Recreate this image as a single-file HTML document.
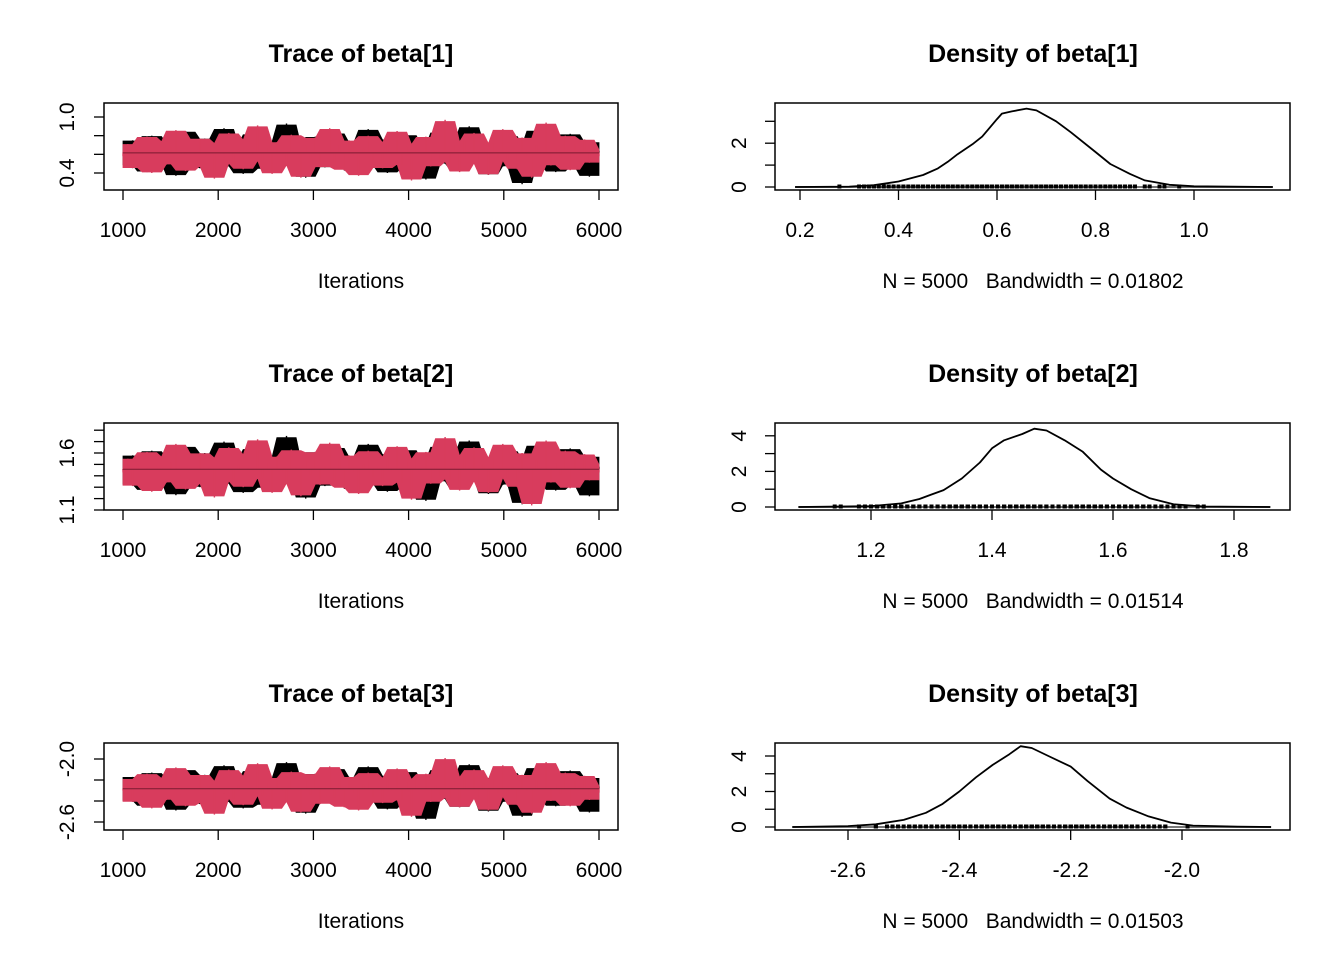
<!DOCTYPE html>
<html><head><meta charset="utf-8"><style>
body{margin:0;background:#fff}
svg{display:block;font-family:"Liberation Sans",Arial,sans-serif}
</style></head><body>
<svg id="c" width="1344" height="960" viewBox="0 0 1344 960"></svg>
<script>
const iterStart = 1000, iterEnd = 6000;
const b1c1 = [0.62,0.48,0.75,0.55,0.68,0.41,0.80,0.59,0.66,0.50,0.72,0.37,0.63,0.85,0.54,0.61,0.45,0.77,0.58,0.69,0.52,0.88,0.47,0.64,0.71,0.39,0.60,0.82,0.56,0.67,0.44,0.74,0.61,0.53,0.93,0.49,0.65,0.70,0.35,0.62,0.79,0.57,0.46,0.68,0.83,0.51,0.60,0.73,0.42,0.66,0.58,0.87,0.48,0.63,0.76,0.40,0.59,0.71,0.54,0.81,0.45,0.67,0.62,0.33,0.70,0.56,0.84,0.50,0.64,0.75,0.43,0.61,0.90,0.52,0.68,0.58,0.38,0.72,0.63,0.47,0.80,0.55,0.66,0.28,0.70,0.59,0.86,0.49,0.62,0.74,0.41,0.65,0.57,0.82,0.46,0.69,0.60,0.36,0.73,0.64];
const b1c2 = [0.58,0.71,0.45,0.66,0.52,0.79,0.40,0.63,0.74,0.49,0.68,0.86,0.55,0.42,0.70,0.61,0.77,0.47,0.64,0.34,0.72,0.57,0.83,0.50,0.65,0.44,0.76,0.60,0.91,0.53,0.67,0.39,0.73,0.58,0.48,0.81,0.62,0.35,0.69,0.56,0.78,0.46,0.64,0.88,0.51,0.70,0.43,0.75,0.59,0.37,0.66,0.80,0.54,0.62,0.45,0.73,0.58,0.85,0.49,0.68,0.32,0.71,0.60,0.79,0.47,0.64,0.55,0.97,0.52,0.69,0.41,0.74,0.61,0.83,0.50,0.66,0.38,0.72,0.57,0.87,0.53,0.63,0.44,0.78,0.59,0.35,0.70,0.62,0.94,0.48,0.67,0.56,0.80,0.43,0.71,0.60,0.76,0.51,0.65,0.58];
const b2c1 = [1.45,1.32,1.58,1.40,1.52,1.27,1.62,1.44,1.50,1.35,1.56,1.23,1.47,1.66,1.38,1.46,1.30,1.60,1.42,1.53,1.36,1.70,1.33,1.48,1.55,1.25,1.45,1.64,1.39,1.51,1.29,1.57,1.46,1.37,1.75,1.34,1.49,1.54,1.20,1.47,1.61,1.41,1.31,1.52,1.65,1.36,1.45,1.57,1.28,1.50,1.43,1.68,1.33,1.48,1.59,1.26,1.44,1.55,1.38,1.63,1.30,1.51,1.46,1.18,1.54,1.40,1.66,1.35,1.49,1.58,1.28,1.46,1.71,1.37,1.52,1.43,1.24,1.56,1.47,1.32,1.62,1.39,1.50,1.15,1.54,1.44,1.67,1.34,1.47,1.58,1.27,1.49,1.42,1.64,1.31,1.53,1.45,1.22,1.57,1.48];
const b2c2 = [1.43,1.55,1.31,1.50,1.37,1.61,1.26,1.48,1.57,1.34,1.52,1.68,1.40,1.28,1.54,1.46,1.60,1.33,1.49,1.21,1.56,1.42,1.65,1.35,1.50,1.30,1.59,1.45,1.72,1.38,1.51,1.25,1.57,1.43,1.33,1.63,1.47,1.22,1.53,1.41,1.61,1.32,1.49,1.69,1.36,1.54,1.29,1.58,1.44,1.24,1.50,1.62,1.39,1.47,1.31,1.57,1.43,1.66,1.34,1.52,1.19,1.55,1.45,1.61,1.33,1.49,1.40,1.74,1.37,1.53,1.27,1.58,1.46,1.65,1.35,1.50,1.25,1.56,1.42,1.68,1.38,1.48,1.30,1.60,1.44,1.14,1.54,1.47,1.71,1.34,1.51,1.41,1.62,1.29,1.55,1.45,1.59,1.36,1.50,1.43];
const b3c1 = [-2.28,-2.40,-2.17,-2.33,-2.22,-2.45,-2.13,-2.30,-2.24,-2.38,-2.19,-2.49,-2.27,-2.10,-2.35,-2.29,-2.43,-2.15,-2.32,-2.21,-2.37,-2.06,-2.41,-2.26,-2.20,-2.47,-2.29,-2.11,-2.34,-2.23,-2.44,-2.18,-2.29,-2.36,-2.03,-2.39,-2.25,-2.20,-2.52,-2.27,-2.14,-2.31,-2.42,-2.22,-2.09,-2.37,-2.28,-2.17,-2.46,-2.24,-2.31,-2.07,-2.40,-2.26,-2.16,-2.48,-2.30,-2.19,-2.35,-2.12,-2.43,-2.23,-2.28,-2.58,-2.20,-2.33,-2.10,-2.38,-2.25,-2.17,-2.46,-2.29,-2.05,-2.36,-2.22,-2.31,-2.50,-2.18,-2.27,-2.41,-2.13,-2.34,-2.24,-2.55,-2.20,-2.30,-2.08,-2.39,-2.27,-2.17,-2.45,-2.25,-2.32,-2.11,-2.42,-2.21,-2.29,-2.51,-2.18,-2.26];
const b3c2 = [-2.30,-2.19,-2.41,-2.24,-2.36,-2.14,-2.47,-2.27,-2.18,-2.39,-2.22,-2.08,-2.34,-2.45,-2.20,-2.29,-2.15,-2.42,-2.26,-2.53,-2.21,-2.33,-2.10,-2.38,-2.25,-2.44,-2.16,-2.30,-2.04,-2.35,-2.23,-2.48,-2.18,-2.31,-2.41,-2.12,-2.28,-2.51,-2.21,-2.34,-2.14,-2.43,-2.26,-2.07,-2.37,-2.20,-2.46,-2.17,-2.32,-2.49,-2.24,-2.13,-2.36,-2.28,-2.42,-2.18,-2.31,-2.09,-2.39,-2.22,-2.55,-2.19,-2.30,-2.14,-2.41,-2.25,-2.34,-1.99,-2.37,-2.21,-2.46,-2.17,-2.29,-2.10,-2.38,-2.23,-2.49,-2.19,-2.32,-2.06,-2.36,-2.27,-2.44,-2.15,-2.31,-2.52,-2.20,-2.28,-2.03,-2.40,-2.24,-2.33,-2.13,-2.45,-2.21,-2.30,-2.16,-2.39,-2.26,-2.32];
const d1x = [0.19,0.30,0.35,0.40,0.45,0.48,0.50,0.52,0.55,0.57,0.60,0.61,0.63,0.66,0.68,0.72,0.75,0.80,0.83,0.87,0.90,0.95,1.00,1.16];
const d1y = [0,0.02,0.08,0.25,0.55,0.85,1.15,1.5,1.95,2.3,3.1,3.35,3.45,3.58,3.5,3.0,2.5,1.6,1.05,0.6,0.3,0.1,0.03,0];
const d2x = [1.08,1.20,1.25,1.28,1.30,1.32,1.35,1.38,1.40,1.42,1.45,1.47,1.49,1.52,1.55,1.58,1.60,1.63,1.66,1.70,1.75,1.86];
const d2y = [0,0.05,0.2,0.45,0.7,0.95,1.6,2.5,3.3,3.75,4.1,4.4,4.3,3.75,3.1,2.1,1.6,1.0,0.5,0.15,0.03,0];
const d3x = [-2.70,-2.60,-2.55,-2.50,-2.46,-2.43,-2.40,-2.37,-2.34,-2.31,-2.29,-2.27,-2.24,-2.20,-2.17,-2.13,-2.10,-2.06,-2.02,-1.98,-1.90,-1.84];
const d3y = [0,0.05,0.15,0.4,0.8,1.3,2.0,2.8,3.5,4.1,4.55,4.45,4.0,3.4,2.6,1.6,1.1,0.6,0.25,0.08,0.02,0];
const traceXTicks = [1000,2000,3000,4000,5000,6000];
const names = ["beta[1]","beta[2]","beta[3]"];
const bandwidths = ["0.01802","0.01514","0.01503"];

const rows = [
 {c1:b1c1,c2:b1c2,tv:[0.4,1.0],ty:[173,117],yt:[0.4,0.6,0.8,1.0],yl:["0.4","1.0"],
  dx:d1x,dy:d1y,dxv:[0.2,1.0],dxp:[800,1194],dxt:[0.2,0.4,0.6,0.8,1.0],dxl:["0.2","0.4","0.6","0.8","1.0"],dyScale:21.9,dyt:[0,1,2,3],dyl:[0,2]},
 {c1:b2c1,c2:b2c2,tv:[1.1,1.6],ty:[510,453],yt:[1.1,1.2,1.3,1.4,1.5,1.6,1.7,1.8],yl:["1.1","1.6"],
  dx:d2x,dy:d2y,dxv:[1.2,1.8],dxp:[871,1234],dxt:[1.2,1.4,1.6,1.8],dxl:["1.2","1.4","1.6","1.8"],dyScale:17.8,dyt:[0,1,2,3,4],dyl:[0,2,4]},
 {c1:b3c1,c2:b3c2,tv:[-2.6,-2.0],ty:[822,759],yt:[-2.6,-2.4,-2.2,-2.0],yl:["-2.6","-2.0"],
  dx:d3x,dy:d3y,dxv:[-2.6,-2.0],dxp:[848,1182],dxt:[-2.6,-2.4,-2.2,-2.0],dxl:["-2.6","-2.4","-2.2","-2.0"],dyScale:17.75,dyt:[0,1,2,3,4],dyl:[0,2,4]}
];
const svg=document.getElementById('c');
const NS="http://www.w3.org/2000/svg";
function mk(tag,attrs,parent){const e=document.createElementNS(NS,tag);for(const k in attrs)e.setAttribute(k,attrs[k]);(parent||svg).appendChild(e);return e;}
function txt(s,x,y,size,parent,extra){const t=mk('text',Object.assign({x:x,y:y,'font-size':size,'text-anchor':'middle',fill:'#000'},extra||{}),parent);t.textContent=s;return t;}
const tx=i=>123+(i-iterStart)*(599-123)/(iterEnd-iterStart);
const FS=21;

rows.forEach((r,k)=>{
 const off=k*320;
 const g=mk('g',{});
 
 
 const ty=v=>r.ty[0]+(v-r.tv[0])*(r.ty[1]-r.ty[0])/(r.tv[1]-r.tv[0]);
 const t1=txt('Trace of '+names[k],361,62+off,25,g,{'font-weight':'bold'});
 
 
 const all=r.c1.concat(r.c2);const mean=all.reduce((a,b)=>a+b,0)/all.length;
 [r.c1,r.c2].forEach((ch,ci)=>{
  const n=ch.length;
  const col=ci?'#D83C5D':'#000';
  const cg=mk('g',{},g);
  
  
  const xs=ch.map((v,i)=>tx(iterStart+i*(iterEnd-iterStart)/(n-1)));
  const his=[],los=[];
  ch.forEach((v,i)=>{
   const win=ch.slice(Math.max(0,i-2),Math.min(n,i+3));
   const hi=Math.max(...win), lo=Math.min(...win);
   his.push(xs[i].toFixed(1)+','+ty(mean+(hi-mean)*0.95).toFixed(1));
   los.unshift(xs[i].toFixed(1)+','+ty(mean+(lo-mean)*0.95).toFixed(1));
  });
  mk('polygon',{points:his.concat(los).join(' '),fill:col,stroke:col,'stroke-width':0.8,'stroke-linejoin':'miter'},cg);
  const sp=mk('g',{stroke:col,'stroke-width':1.4},cg);
  ch.forEach((v,i)=>mk('line',{x1:xs[i].toFixed(1),x2:xs[i].toFixed(1),y1:ty(mean).toFixed(1),y2:ty(v).toFixed(1)},sp));
 });
 const ml=mk('line',{x1:tx(iterStart),x2:tx(iterEnd),y1:ty(mean),y2:ty(mean),stroke:'#7a1a30','stroke-width':1},g);
 
 
 const box=mk('rect',{x:104,y:103+off,width:514,height:87,fill:'none',stroke:'#000','stroke-width':1.5},g);
 
 
 const by=190+off;
 traceXTicks.forEach(v=>{
  mk('line',{x1:tx(v),x2:tx(v),y1:by,y2:by+10,stroke:'#000','stroke-width':1.3},g);
  const l=txt(String(v),tx(v),237+off,FS,g);
  
  
 });
 const it=txt('Iterations',361,288+off,FS,g);
 
 
 r.yt.forEach(v=>mk('line',{x1:94,x2:104,y1:ty(v),y2:ty(v),stroke:'#000','stroke-width':1.3},g));
 r.yl.forEach(s=>{const v=parseFloat(s);const l=txt(s,0,0,FS,g,{transform:`translate(74,${ty(v)}) rotate(-90)`});
  
  });

 const h=mk('g',{});
 
 
 const dx=v=>r.dxp[0]+(v-r.dxv[0])*(r.dxp[1]-r.dxp[0])/(r.dxv[1]-r.dxv[0]);
 const y0=187+off, dy=d=>y0-d*r.dyScale;
 const t2=txt('Density of '+names[k],1033,62+off,25,h,{'font-weight':'bold'});
 
 
 const zl=mk('line',{x1:dx(r.dx[0]),x2:dx(r.dx[r.dx.length-1]),y1:y0,y2:y0,stroke:'#777','stroke-width':2},h);
 
 
 const rug=mk('g',{stroke:'#000','stroke-width':4},h);
 
 
 all.forEach(v=>mk('line',{x1:dx(v),x2:dx(v),y1:y0-2.5,y2:y0+1.5},rug));
 const dp=r.dx.map((v,i)=>dx(v).toFixed(1)+','+dy(r.dy[i]).toFixed(1)).join(' ');
 const dl=mk('polyline',{points:dp,fill:'none',stroke:'#000','stroke-width':1.8,'stroke-linejoin':'round'},h);
 
 
 const box2=mk('rect',{x:775,y:103+off,width:515,height:87,fill:'none',stroke:'#000','stroke-width':1.5},h);
 
 
 r.dxt.forEach((v,i)=>{
  mk('line',{x1:dx(v),x2:dx(v),y1:by,y2:by+10,stroke:'#000','stroke-width':1.3},h);
  const l=txt(r.dxl[i],dx(v),237+off,FS,h);
  
  
 });
 const nb=txt('N = 5000   Bandwidth = '+bandwidths[k],1033,288+off,FS,h,{style:'white-space:pre'});
 
 
 r.dyt.forEach(v=>mk('line',{x1:765,x2:775,y1:dy(v),y2:dy(v),stroke:'#000','stroke-width':1.3},h));
 r.dyl.forEach(v=>{const l=txt(String(v),0,0,FS,h,{transform:`translate(746,${dy(v)}) rotate(-90)`});
  
  });
});
</script>
</body></html>
